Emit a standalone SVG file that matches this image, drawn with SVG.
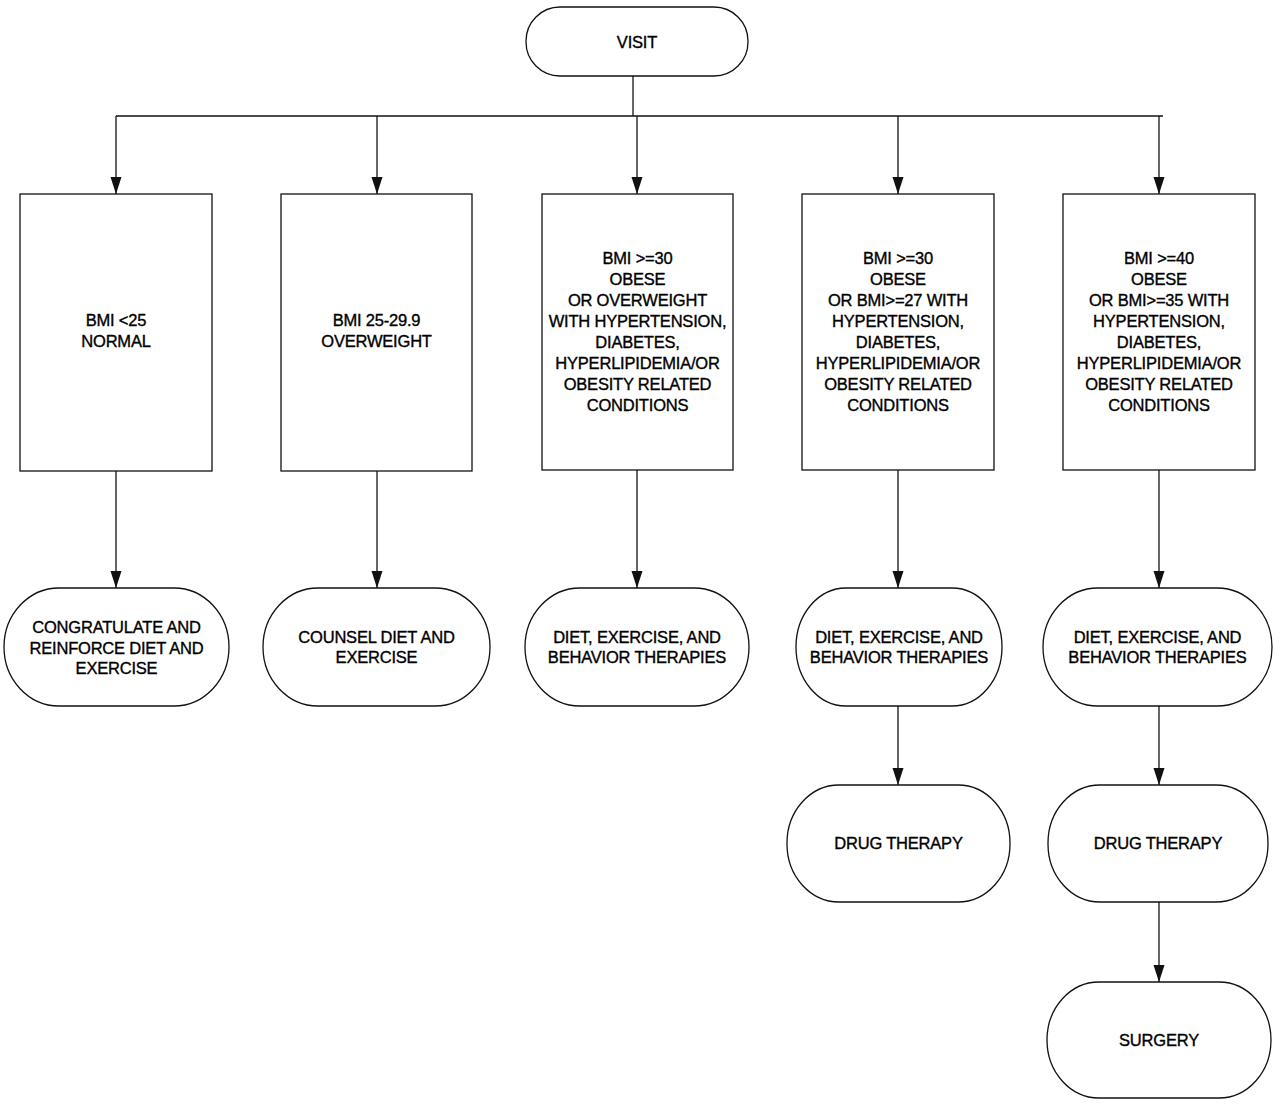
<svg xmlns="http://www.w3.org/2000/svg" width="1280" height="1105" viewBox="0 0 1280 1105">
<style>
.n{fill:#fff;stroke:#111;stroke-width:1.3}
.c{fill:none;stroke:#111;stroke-width:1.3}
text{font-family:"Liberation Sans",Arial,sans-serif;font-size:16.5px;fill:#000;stroke:#000;stroke-width:0.35;letter-spacing:-0.2px;text-anchor:middle}
</style>
<defs>
<marker id="ah" markerUnits="userSpaceOnUse" markerWidth="18" markerHeight="12" refX="17" refY="5.5" orient="auto">
<path d="M0,0 L17,5.5 L0,11 z" fill="#111"/>
</marker>
</defs>
<rect width="1280" height="1105" fill="#fff"/>
<g id="connectors">
<path class="c" d="M633,76 V116"/>
<path class="c" d="M116,116 H1163"/>
<path class="c" d="M116,116 V194" marker-end="url(#ah)"/>
<path class="c" d="M377,116 V194" marker-end="url(#ah)"/>
<path class="c" d="M637,116 V194" marker-end="url(#ah)"/>
<path class="c" d="M898,116 V194" marker-end="url(#ah)"/>
<path class="c" d="M1159,116 V194" marker-end="url(#ah)"/>
<path class="c" d="M116,471 V588" marker-end="url(#ah)"/>
<path class="c" d="M377,471 V588" marker-end="url(#ah)"/>
<path class="c" d="M637,470 V588" marker-end="url(#ah)"/>
<path class="c" d="M898,470 V588" marker-end="url(#ah)"/>
<path class="c" d="M1159,470 V588" marker-end="url(#ah)"/>
<path class="c" d="M898,706 V785" marker-end="url(#ah)"/>
<path class="c" d="M1159,706 V785" marker-end="url(#ah)"/>
<path class="c" d="M1159,902 V982" marker-end="url(#ah)"/>
</g>
<g id="visit">
<rect class="n" x="526" y="7" width="222" height="69" rx="34" ry="34"/>
<text x="637" y="48">VISIT</text>
</g>
<g id="box1">
<rect class="n" x="20" y="194" width="192" height="277"/>
<text x="116" y="326">BMI &lt;25</text>
<text x="116" y="347">NORMAL</text>
</g>
<g id="box2">
<rect class="n" x="281" y="194" width="191" height="277"/>
<text x="376.5" y="326">BMI 25-29.9</text>
<text x="376.5" y="347">OVERWEIGHT</text>
</g>
<g id="box3">
<rect class="n" x="542" y="194" width="191" height="276"/>
<text x="637.5" y="263.5">BMI &gt;=30</text>
<text x="637.5" y="284.5">OBESE</text>
<text x="637.5" y="305.5">OR OVERWEIGHT</text>
<text x="637.5" y="326.5">WITH HYPERTENSION,</text>
<text x="637.5" y="347.5">DIABETES,</text>
<text x="637.5" y="368.5">HYPERLIPIDEMIA/OR</text>
<text x="637.5" y="389.5">OBESITY RELATED</text>
<text x="637.5" y="410.5">CONDITIONS</text>
</g>
<g id="box4">
<rect class="n" x="802" y="194" width="192" height="276"/>
<text x="898" y="263.5">BMI &gt;=30</text>
<text x="898" y="284.5">OBESE</text>
<text x="898" y="305.5">OR BMI&gt;=27 WITH</text>
<text x="898" y="326.5">HYPERTENSION,</text>
<text x="898" y="347.5">DIABETES,</text>
<text x="898" y="368.5">HYPERLIPIDEMIA/OR</text>
<text x="898" y="389.5">OBESITY RELATED</text>
<text x="898" y="410.5">CONDITIONS</text>
</g>
<g id="box5">
<rect class="n" x="1063" y="194" width="192" height="276"/>
<text x="1159" y="263.5">BMI &gt;=40</text>
<text x="1159" y="284.5">OBESE</text>
<text x="1159" y="305.5">OR BMI&gt;=35 WITH</text>
<text x="1159" y="326.5">HYPERTENSION,</text>
<text x="1159" y="347.5">DIABETES,</text>
<text x="1159" y="368.5">HYPERLIPIDEMIA/OR</text>
<text x="1159" y="389.5">OBESITY RELATED</text>
<text x="1159" y="410.5">CONDITIONS</text>
</g>
<g id="action1">
<rect class="n" x="4" y="588" width="225" height="118" rx="55" ry="59"/>
<text x="116.5" y="632.5">CONGRATULATE AND</text>
<text x="116.5" y="653.5">REINFORCE DIET AND</text>
<text x="116.5" y="674">EXERCISE</text>
</g>
<g id="action2">
<rect class="n" x="263" y="588" width="227" height="118" rx="55" ry="59"/>
<text x="376.5" y="642.5">COUNSEL DIET AND</text>
<text x="376.5" y="663">EXERCISE</text>
</g>
<g id="action3">
<rect class="n" x="525" y="588" width="224" height="118" rx="55" ry="59"/>
<text x="637" y="642.5">DIET, EXERCISE, AND</text>
<text x="637" y="663">BEHAVIOR THERAPIES</text>
</g>
<g id="action4">
<rect class="n" x="796" y="588" width="206" height="118" rx="50" ry="59"/>
<text x="899" y="642.5">DIET, EXERCISE, AND</text>
<text x="899" y="663">BEHAVIOR THERAPIES</text>
</g>
<g id="action5">
<rect class="n" x="1043" y="588" width="229" height="118" rx="55" ry="59"/>
<text x="1157.5" y="642.5">DIET, EXERCISE, AND</text>
<text x="1157.5" y="663">BEHAVIOR THERAPIES</text>
</g>
<g id="drug4">
<rect class="n" x="787" y="785" width="223" height="117" rx="52" ry="58"/>
<text x="898.5" y="849">DRUG THERAPY</text>
</g>
<g id="drug5">
<rect class="n" x="1048" y="785" width="220" height="117" rx="52" ry="58"/>
<text x="1158" y="849">DRUG THERAPY</text>
</g>
<g id="surgery">
<rect class="n" x="1047" y="982" width="224" height="116" rx="52" ry="58"/>
<text x="1159" y="1046">SURGERY</text>
</g>
</svg>
